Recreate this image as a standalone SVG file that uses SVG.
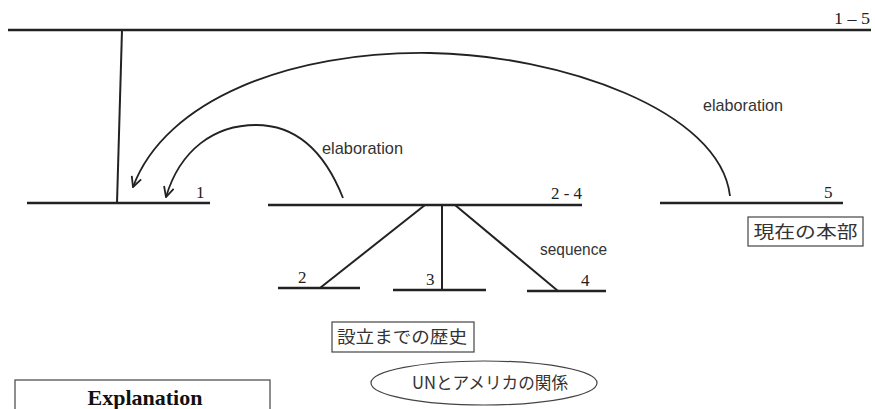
<svg xmlns="http://www.w3.org/2000/svg" width="875" height="409" viewBox="0 0 875 409">
<style>
.seg{stroke:#222;stroke-width:2.5;fill:none}
.link{stroke:#222;stroke-width:2;fill:none}
.arc{stroke:#222;stroke-width:1.8;fill:none}
.num{font-family:"Liberation Serif",serif;font-size:17px;fill:#222}
.rel{font-family:"Liberation Sans",Arial,sans-serif;font-size:17px;fill:#333}
.jp{font-family:"Noto Sans CJK JP",sans-serif;font-size:17px;fill:#333}
.box{fill:#fff;stroke:#444;stroke-width:1.2}
</style>
<defs>
<marker id="vhead" viewBox="0 0 12 12" refX="11" refY="6" markerWidth="12" markerHeight="12" markerUnits="userSpaceOnUse" orient="auto">
<path d="M1,1 L11,6 L1,11" fill="none" stroke="#222" stroke-width="1.8"/>
</marker>
</defs>
<rect width="875" height="409" fill="#fff"/>

<g id="connectors">
<line class="link" x1="122" y1="30" x2="117" y2="203"/>
<line class="link" x1="425" y1="205" x2="320" y2="288"/>
<line class="link" x1="442" y1="205" x2="442" y2="290"/>
<line class="link" x1="455" y1="205" x2="558" y2="291"/>
<path class="arc" d="M730,196 C720,110 560,55 430,53 C290,51 165,100 133,187" marker-end="url(#vhead)"/>
<path class="arc" d="M343,198 C322,145 292,125 256,125 C214,125 180,150 166,197" marker-end="url(#vhead)"/>
<text class="rel" x="703" y="111" textLength="80" lengthAdjust="spacingAndGlyphs">elaboration</text>
<text class="rel" x="322" y="154" textLength="81" lengthAdjust="spacingAndGlyphs">elaboration</text>
<text class="rel" x="540" y="255" textLength="67" lengthAdjust="spacingAndGlyphs">sequence</text>
</g>

<g id="node-1-5">
<line class="seg" x1="8" y1="30" x2="871" y2="30"/>
<text class="num" x="834" y="24" textLength="36" lengthAdjust="spacingAndGlyphs">1 – 5</text>
</g>
<g id="node-1">
<line class="seg" x1="27" y1="203" x2="210" y2="203"/>
<text class="num" x="196" y="198">1</text>
</g>
<g id="node-2-4">
<line class="seg" x1="268" y1="205" x2="582" y2="205"/>
<text class="num" x="551" y="199" textLength="31" lengthAdjust="spacingAndGlyphs">2 - 4</text>
</g>
<g id="node-5">
<line class="seg" x1="660" y1="203" x2="843" y2="203"/>
<text class="num" x="824" y="198">5</text>
</g>
<g id="node-2">
<line class="seg" x1="278" y1="288" x2="360" y2="288"/>
<text class="num" x="298" y="283">2</text>
</g>
<g id="node-3">
<line class="seg" x1="393" y1="290" x2="486" y2="290"/>
<text class="num" x="426" y="285">3</text>
</g>
<g id="node-4">
<line class="seg" x1="527" y1="291" x2="606" y2="291"/>
<text class="num" x="581" y="286">4</text>
</g>

<g id="label-honbu">
<rect class="box" x="748" y="217" width="115" height="29"/>
<text class="jp" x="805.5" y="238" text-anchor="middle" textLength="104" lengthAdjust="spacingAndGlyphs">現在の本部</text>
</g>
<g id="label-rekishi">
<rect class="box" x="332" y="322" width="142" height="30"/>
<text class="jp" x="337" y="343" textLength="130" lengthAdjust="spacingAndGlyphs">設立までの歴史</text>
</g>
<g id="label-un">
<ellipse class="box" cx="484" cy="383" rx="113" ry="22"/>
<text class="jp" x="412" y="389" textLength="156" lengthAdjust="spacingAndGlyphs">UNとアメリカの関係</text>
</g>
<g id="explanation">
<rect class="box" x="15" y="380" width="255" height="40"/>
<text x="145" y="405" text-anchor="middle" font-family="'Liberation Serif',serif" font-weight="bold" font-size="22" fill="#111">Explanation</text>
</g>
</svg>
